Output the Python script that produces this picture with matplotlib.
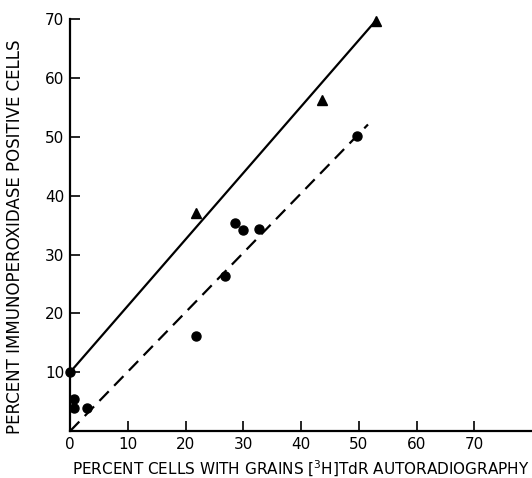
import matplotlib
matplotlib.use("Agg")
import matplotlib.pyplot as plt

# triangles (solid line series)
tri_x = [21.8, 43.7, 53.0]
tri_y = [37.0, 56.3, 69.6]

# circles (dashed line series)
dot_x = [0.0, 0.7, 0.7, 2.9, 21.8, 26.8, 28.6, 29.9, 32.8, 49.7]
dot_y = [10.0, 5.4, 4.0, 4.0, 16.2, 26.3, 35.3, 34.2, 34.3, 50.1]

# fitted lines (end points)
solid_x = [0.0, 53.0]
solid_y = [10.0, 69.8]
dash_x = [0.0, 51.6]
dash_y = [0.0, 52.1]

x_ticks = [0, 10, 20, 30, 40, 50, 60, 70]
y_ticks = [10, 20, 30, 40, 50, 60, 70]

plt.rcParams['font.family'] = ['DejaVu Sans']

fig = plt.figure(figsize=(5.32, 4.78), dpi=100)
ax = fig.add_axes([0.1316, 0.098, 0.8684, 0.862])

ax.plot(solid_x, solid_y, color='black', lw=1.6, solid_capstyle='butt')
ax.plot(dash_x, dash_y, color='black', lw=1.6, dashes=(6, 3.5))
ax.plot(tri_x, tri_y, '^', color='black', ms=7, clip_on=False)
ax.plot(dot_x, dot_y, 'o', color='black', ms=6.5, clip_on=False)

ax.set_xlim(0, 80)
ax.set_ylim(0, 70)
ax.set_xticks(x_ticks)
ax.set_yticks(y_ticks)
ax.tick_params(direction='in', length=7, width=1.2, labelsize=11, pad=4, colors='black')
for s in ['top', 'right']:
    ax.spines[s].set_visible(False)
for s in ['left', 'bottom']:
    ax.spines[s].set_linewidth(1.6)

ax.set_xlabel('PERCENT CELLS WITH GRAINS [$^3$H]TdR AUTORADIOGRAPHY', fontsize=11, labelpad=5)
ax.set_ylabel('PERCENT IMMUNOPEROXIDASE POSITIVE CELLS', fontsize=12)
ax.yaxis.set_label_coords(-0.1, 0.473)

fig.savefig('out.png', dpi=100)
